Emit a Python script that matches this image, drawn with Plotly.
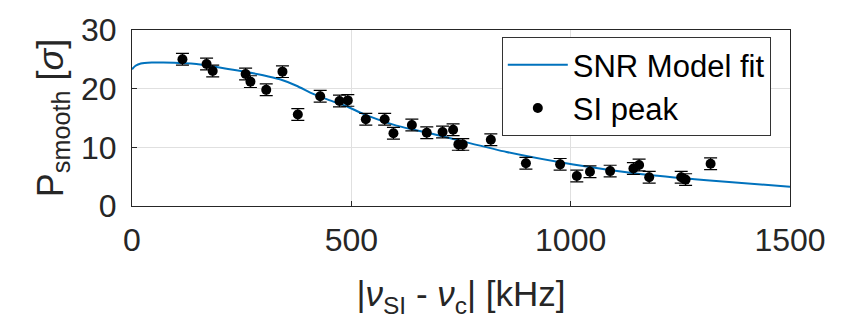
import plotly.graph_objects as go

# Measured SI peaks
peak_x = [115, 170, 184, 259, 270, 306, 343, 378, 429, 473, 492, 533, 576, 596,
          638, 672, 708, 732, 744, 754, 818, 898, 976, 1014, 1044, 1090, 1143,
          1156, 1179, 1252, 1262, 1319]
peak_y = [25.0, 24.2, 23.0, 22.5, 21.2, 19.8, 22.9, 15.6, 18.7, 17.9, 18.0, 14.8,
          14.8, 12.4, 13.8, 12.5, 12.6, 13.0, 10.5, 10.5, 11.3, 7.3, 7.1, 5.1,
          5.85, 5.95, 6.4, 7.0, 4.9, 4.9, 4.5, 7.2]
peak_err = [1.0] * len(peak_x)

# Model fit curve
fit_x = [0, 8, 20, 45, 71, 147, 223, 299, 337, 375, 413, 451, 489, 527, 603,
         679, 744, 854, 1006, 1158, 1310, 1500]
fit_y = [23.3, 23.9, 24.3, 24.45, 24.45, 24.2, 23.3, 22.3, 21.6, 20.5, 19.1,
         18.0, 17.0, 15.7, 13.7, 12.4, 11.2, 9.2, 7.07, 5.47, 4.4, 3.3]

x_ticks = [0, 500, 1000, 1500]
y_ticks = [0, 10, 20, 30]

fig = go.Figure()
fig.add_trace(go.Scatter(
    x=fit_x, y=fit_y, mode="lines", name="SNR Model fit",
    line=dict(color="#0072BD", width=2, shape="spline", smoothing=0.6),
))
fig.add_trace(go.Scatter(
    x=peak_x, y=peak_y, mode="markers", name="SI peak",
    marker=dict(color="black", size=10),
    error_y=dict(type="data", array=peak_err, visible=True, color="black",
                 thickness=1.2, width=6.5),
))

axis_common = dict(
    showline=True, linecolor="#262626", linewidth=1, mirror=True,
    ticks="inside", ticklen=5, tickcolor="#262626",
    showgrid=True, gridcolor="#e0e0e0", gridwidth=1, zeroline=False,
    tickfont=dict(family="Arial", size=32, color="#262626"),
)

fig.update_layout(
    width=846, height=329,
    margin=dict(l=132, r=56, t=18, b=123),
    paper_bgcolor="white", plot_bgcolor="white",
    font=dict(family="Arial", color="#262626"),
    showlegend=True,
    legend=dict(
        x=0.562, y=0.96, xanchor="left", yanchor="top",
        bgcolor="white", bordercolor="#333333", borderwidth=1,
        font=dict(family="Arial", size=31, color="black"),
        itemwidth=60, tracegroupgap=0,
    ),
    xaxis=dict(
        range=[0, 1500], tickvals=x_ticks, ticktext=[str(v) for v in x_ticks],
        title=dict(text="|<i>ν</i><sub>SI</sub> - <i>ν</i><sub>c</sub>| [kHz]",
                   font=dict(family="Arial", size=35, color="#262626"), standoff=24),
        ticklabelstandoff=6,
        **axis_common,
    ),
    yaxis=dict(
        range=[0, 30], tickvals=y_ticks, ticktext=[str(v) for v in y_ticks],
        title=dict(text="P<sub>smooth</sub> [<i>σ</i>]",
                   font=dict(family="Arial", size=36, color="#262626"), standoff=6),
        ticklabelstandoff=8,
        **axis_common,
    ),
)

fig.write_html("out.html")
